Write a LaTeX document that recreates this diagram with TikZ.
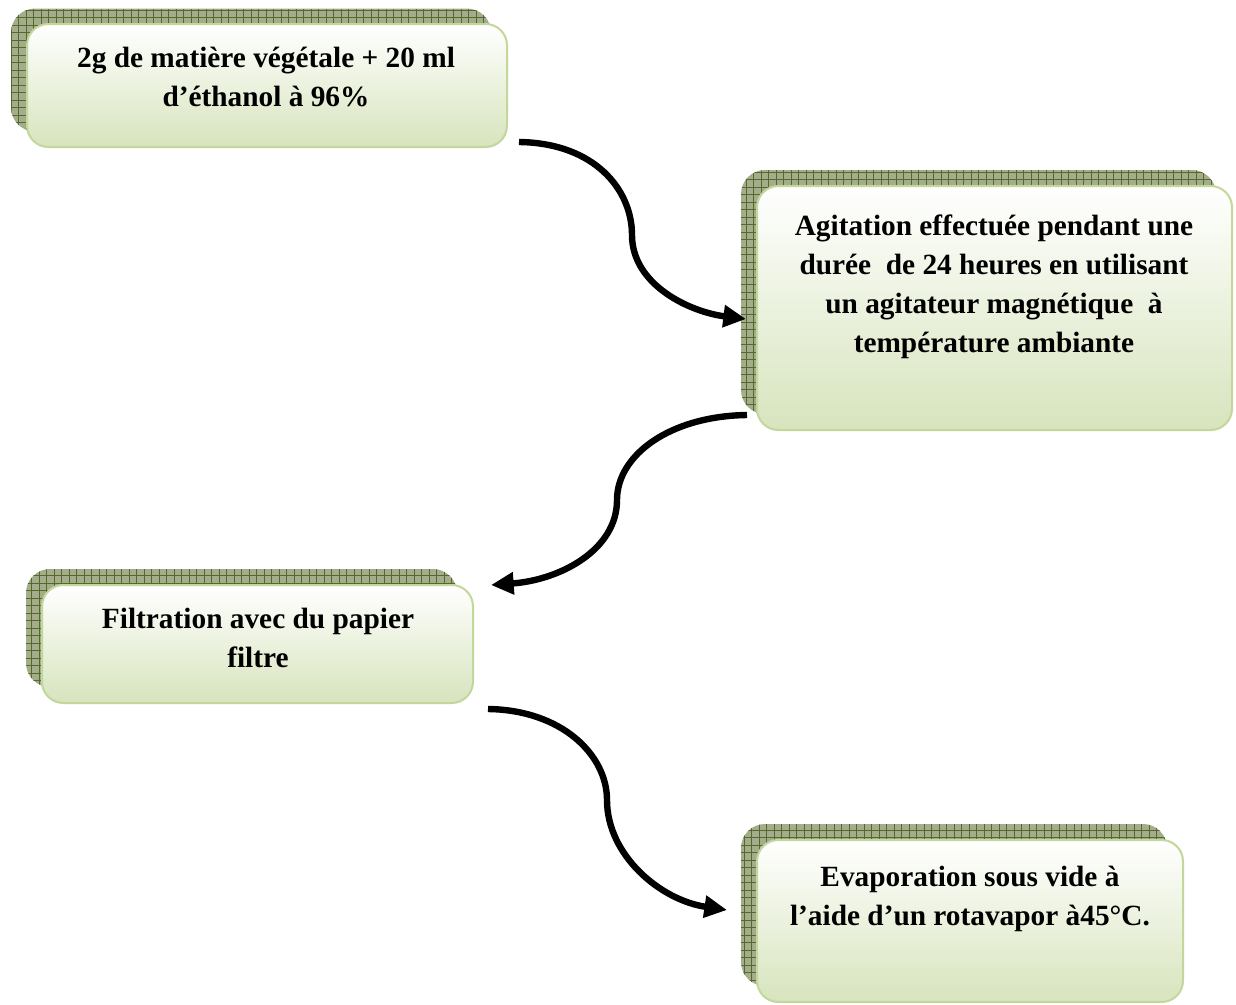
\documentclass[tikz,border=0pt]{standalone}
\usepackage{fontspec}
\setmainfont{Liberation Serif}
\usetikzlibrary{arrows.meta,calc}

\definecolor{boxedge}{HTML}{C3D69B}
\definecolor{boxlow}{HTML}{D7E4BD}
\definecolor{shadefill}{HTML}{A3AD8C}
\definecolor{shadegrid}{HTML}{55692C}

\tikzset{
  stepbox/.style={rectangle, rounded corners=16pt, draw=boxedge, line width=1.5pt,
    top color=white, bottom color=boxlow, inner sep=0pt},
  backbox/.style={rectangle, rounded corners=18pt, fill=shadefill, inner sep=0pt,
    path picture={\draw[shadegrid, line width=0.45pt, step=5.625pt]
      (path picture bounding box.south west) grid (path picture bounding box.north east);}},
  steptext/.style={anchor=north, align=center, inner sep=0pt,
    font=\bfseries\fontsize{22}{29.25}\selectfont},
  flow/.style={line width=4.8pt, -{Triangle[length=17pt,width=16pt]}},
}

\begin{document}
\begin{tikzpicture}[x=0.75pt,y=-0.75pt]
  \useasboundingbox (0,0) rectangle (1236,1004);

  % step 1
  \node[backbox, minimum width=360pt, minimum height=92.25pt] (s1) at (251,70) {};
  \node[stepbox, minimum width=360pt, minimum height=92.25pt] (b1) at (267,85.5) {};
  \node[steptext] (t1) at (266,40) {\strut 2g de matière végétale + 20 ml\\\strut d’éthanol à 96\%};

  % step 2
  \node[backbox, minimum width=356.25pt, minimum height=183pt] (s2) at (978.5,292) {};
  \node[stepbox, minimum width=356.25pt, minimum height=183pt] (b2) at (994.5,308) {};
  \node[steptext] (t2) at (994,208) {\strut Agitation effectuée pendant une\\
    \strut durée~ de 24 heures en utilisant\\
    \strut un agitateur magnétique~ à\\
    \strut température ambiante};

  % step 3
  \node[backbox, minimum width=323.25pt, minimum height=88.5pt] (s3) at (241.5,628) {};
  \node[stepbox, minimum width=323.25pt, minimum height=88.5pt] (b3) at (257.5,644) {};
  \node[steptext] (t3) at (258,601) {\strut Filtration avec du papier\\\strut filtre};

  % step 4
  \node[backbox, minimum width=319.5pt, minimum height=121.5pt] (s4) at (954,905) {};
  \node[stepbox, minimum width=319.5pt, minimum height=121.5pt] (b4) at (970,921) {};
  \node[steptext] (t4) at (970,859) {\strut Evaporation sous vide à\\\strut l’aide d’un rotavapor à45°C.};

  % connector ends
  \coordinate (a1s) at ($(b1.south east)+(11,-6)$);
  \coordinate (a1e) at ($(b2.west)+(-10,11)$);
  \coordinate (a2s) at ($(b2.south west)+(-9,-16)$);
  \coordinate (a2e) at ($(b3.north east)+(17,1)$);
  \coordinate (a3s) at ($(b3.south east)+(14,5)$);
  \coordinate (a3e) at ($(b4.west)+(-29,-11)$);

  % curved connectors
  \draw[flow] (a1s) .. controls (595,143) and (632,190) .. (632,235)
                    .. controls (632,285) and (690,312) .. (a1e);
  \draw[flow] (a2s) .. controls (670,416) and (617,455) .. (617,500)
                    .. controls (617,550) and (560,580) .. (a2e);
  \draw[flow] (a3s) .. controls (562,710) and (607,755) .. (607,800)
                    .. controls (607,855) and (660,900) .. (a3e);
\end{tikzpicture}
\end{document}
